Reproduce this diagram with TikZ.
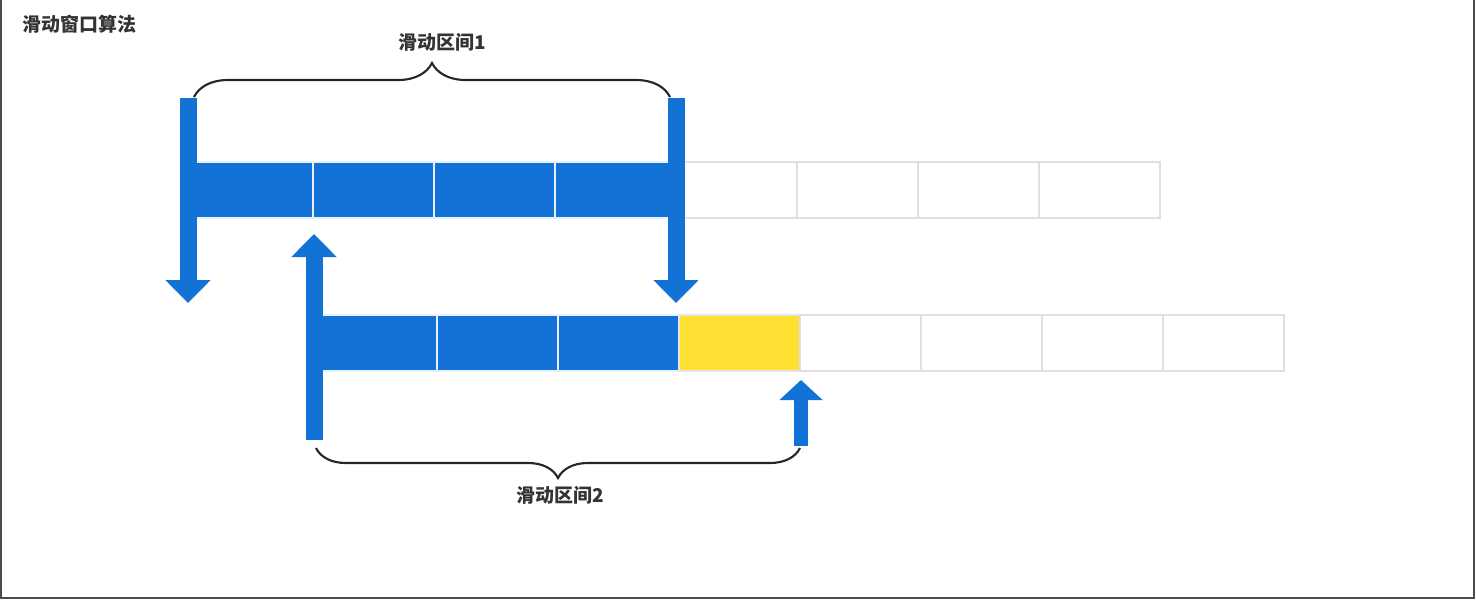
\documentclass[tikz,border=0pt]{standalone}
\usepackage{fontspec}
\newfontfamily\cjk{Noto Sans CJK SC}
\usetikzlibrary{positioning, arrows.meta, decorations.pathreplacing}
\definecolor{winblue}{RGB}{18,114,214}
\definecolor{winyellow}{RGB}{255,224,50}
\tikzstyle{cell} = [rectangle, draw=gray!25, line width=0.8pt, fill=white,
    minimum width=2.42cm, minimum height=1.12cm, inner sep=0pt, outer sep=0pt]
\tikzstyle{bluecell} = [cell, fill=winblue, draw=white!90!winblue]
\tikzstyle{yellowcell} = [cell, fill=winyellow, draw=gray!20]
\tikzstyle{bar} = [draw=winblue, line width=0.34cm, -{Triangle[width=0.88cm, length=0.46cm]}]
\tikzstyle{smallbar} = [draw=winblue, line width=0.28cm, -{Triangle[width=0.84cm, length=0.4cm]}]
\tikzstyle{brace} = [draw=black!85, line width=1.2pt, decorate]
\tikzstyle{tag} = [font=\cjk\bfseries\fontsize{10.8}{12}\selectfont, text=black!80]
\tikzstyle{frame} = [draw=black!70, line width=1pt]

\begin{document}
\begin{tikzpicture}[x=0.02cm, y=-0.02cm]
            \useasboundingbox (0,0) rectangle (1476,600);
            \draw [frame] (1,0) -- (1,598) -- (1474,598) -- (1474,0);
            % Title
            \node [tag, anchor=west, inner sep=0pt] (title) at (22,24) {滑动窗口算法};
            % Window 1
            \node [bluecell] (t1) at (252.5,190) {};
            \node [bluecell, right=0pt of t1] (t2) {};
            \node [bluecell, right=0pt of t2] (t3) {};
            \node [bluecell, right=0pt of t3] (t4) {};
            \node [cell, right=0pt of t4] (t5) {};
            \node [cell, right=0pt of t5] (t6) {};
            \node [cell, right=0pt of t6] (t7) {};
            \node [cell, right=0pt of t7] (t8) {};
            % Window 2
            \node [bluecell] (b1) at (376.5,343) {};
            \node [bluecell, right=0pt of b1] (b2) {};
            \node [bluecell, right=0pt of b2] (b3) {};
            \node [yellowcell, right=0pt of b3] (b4) {};
            \node [cell, right=0pt of b4] (b5) {};
            \node [cell, right=0pt of b5] (b6) {};
            \node [cell, right=0pt of b6] (b7) {};
            \node [cell, right=0pt of b7] (b8) {};
            % Arrow ends
            \coordinate (lefttop) at (188,98);
            \coordinate (leftdown) at (188,303);
            \coordinate (righttop) at (676,98);
            \coordinate (rightdown) at (676,303);
            \coordinate (startlow) at (314,440);
            \coordinate (startup) at (314,234);
            \coordinate (endlow) at (801,446);
            \coordinate (endup) at (801,380);
            \coordinate (brace1a) at (194,97);
            \coordinate (brace1b) at (670,97);
            \coordinate (brace2a) at (316,448);
            \coordinate (brace2b) at (800,448);
            % Draw arrows
            \path [bar] (lefttop) -- (leftdown);
            \path [bar] (righttop) -- (rightdown);
            \path [bar] (startlow) -- (startup);
            \path [smallbar] (endlow) -- (endup);
            % Braces
            \path [brace, decoration={brace, amplitude=0.68cm}] (brace1a) -- node [tag, xshift=0.2cm, yshift=1.1cm] (span1) {滑动区间1} (brace1b);
            \path [brace, decoration={brace, amplitude=0.6cm}] (brace2b) -- node [tag, xshift=0.05cm, yshift=-0.94cm] (span2) {滑动区间2} (brace2a);
        \end{tikzpicture}
\end{document}
